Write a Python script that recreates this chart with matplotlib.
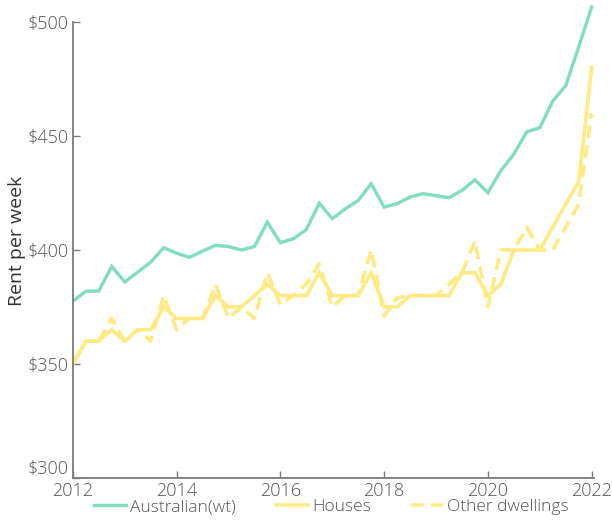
import matplotlib
matplotlib.use("Agg")
import matplotlib.pyplot as plt
import numpy as np

years = [2012 + q * 0.25 for q in range(41)]

australian = [377.5, 381.9, 382.0, 392.8, 386.0, 390.3, 394.6, 401.0, 398.6, 396.8,
              399.5, 402.0, 401.5, 400.0, 401.5, 412.2, 403.2, 404.9, 408.9, 420.5,
              413.7, 418.0, 421.7, 429.0, 418.8, 420.3, 423.2, 424.7, 423.8, 422.9,
              426.1, 430.8, 425.1, 434.8, 442.0, 451.8, 453.6, 465.3, 472.0, 489.0,
              506.5]

houses = [350, 360, 360, 365, 360, 365, 365, 375, 370, 370,
          370, 380, 375, 375, 380, 385, 380, 380, 380, 390,
          380, 380, 380, 390, 375, 375, 380, 380, 380, 380,
          390, 390, 380, 385, 400, 400, 400, 410, 420, 430,
          480]

other = [350, 360, 360, 370, 360, 365, 360, 380, 365, 370,
         370, 385, 370, 375, 370, 390, 376, 380, 385, 394,
         375, 380, 380, 400, 371, 379, 380, 380, 380, 385,
         390, 404, 375, 400, 400, 410, 400, 400, 410, 420,
         460]

y_ticks = [300, 350, 400, 450, 500]
y_tick_labels = ["$300", "$350", "$400", "$450", "$500"]
x_ticks = [2012, 2014, 2016, 2018, 2020, 2022]

green = "#80DEBC"
yellow = "#FFEA84"
axis_grey = "#7a7a7a"
text_grey = "#555555"

plt.rcParams['font.family'] = ['Open Sans', 'DejaVu Sans']
plt.rcParams['font.weight'] = 'light'

fig = plt.figure(figsize=(6.12, 5.23), dpi=100)
ax = fig.add_axes([0.119, 0.086, 0.852, 0.907])

ax.plot(years, australian, color=green, lw=2.4, label="Australian(wt)", solid_joinstyle='miter')
ax.plot(years, houses, color=yellow, lw=2.6, label="Houses", solid_joinstyle='miter')
ax.plot(years, other, color=yellow, lw=2.6, ls=(0, (3.5, 2)), label="Other dwellings")

ax.set_xlim(2012, 2022.05)
ax.set_ylim(300, 508)
ax.spines['left'].set_bounds(300, 500)
ax.spines['bottom'].set_bounds(2012, 2022.05)
for s in ['top', 'right']:
    ax.spines[s].set_visible(False)
for s in ['left', 'bottom']:
    ax.spines[s].set_color(axis_grey)
    ax.spines[s].set_linewidth(1.3)

ax.set_yticks(y_ticks)
ax.set_yticklabels(y_tick_labels)
ax.set_xticks(x_ticks)
ax.tick_params(direction='in', length=5, width=1.0, color=axis_grey,
               labelcolor=text_grey, labelsize=13, pad=3)
ax.yaxis.get_major_ticks()[0].label1.set_verticalalignment('bottom')

ax.set_ylabel("Rent per week", fontsize=14, color="#333333", labelpad=1)

fig.legend(loc='lower center', bbox_to_anchor=(0.541, -0.015), ncol=3, frameon=False,
           fontsize=12.5, handlelength=1.85, handletextpad=0.23, columnspacing=2.3,
           labelcolor=text_grey)

fig.savefig("out.png", dpi=100)
